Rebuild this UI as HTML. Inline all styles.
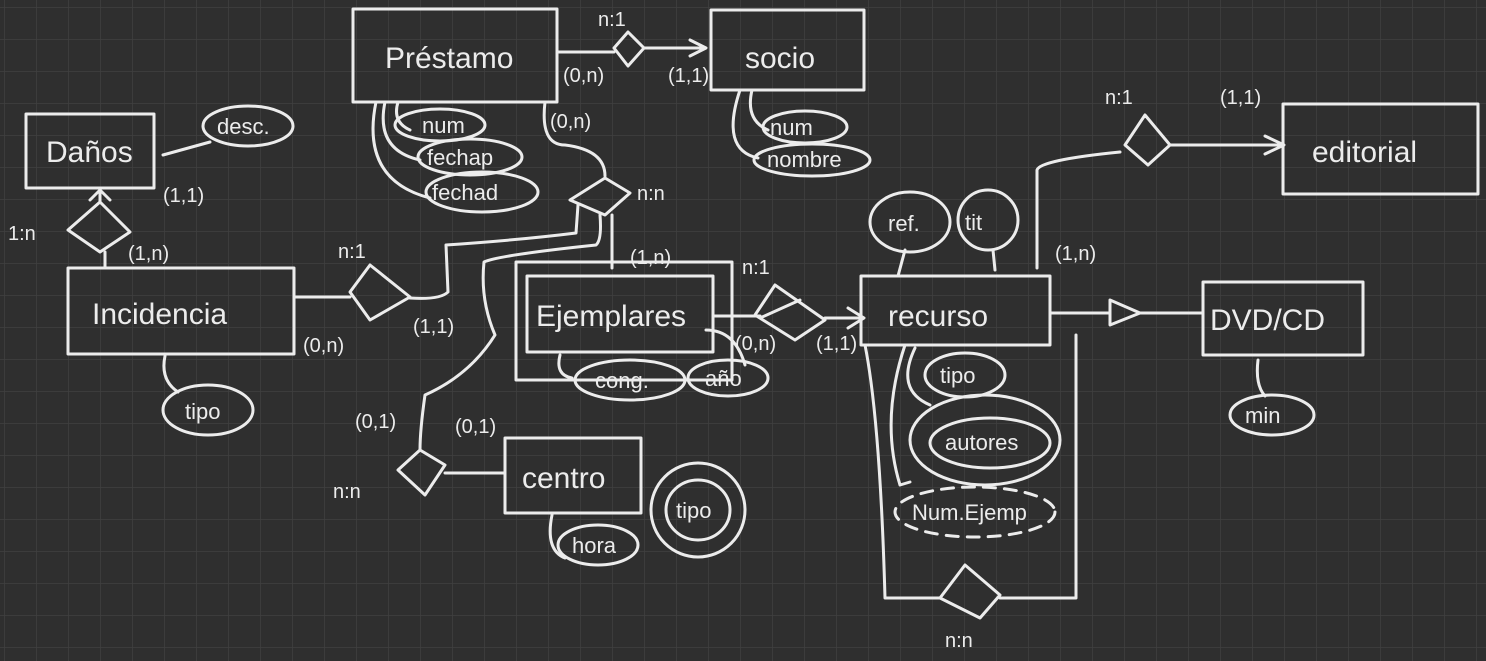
<!DOCTYPE html>
<html><head><meta charset="utf-8"><style>
html,body{margin:0;padding:0;background:#2f2f2f;}
svg{display:block}
text{font-family:"Liberation Sans",sans-serif;fill:#ececec;}
</style></head><body>
<svg width="1486" height="661" viewBox="0 0 1486 661" xmlns="http://www.w3.org/2000/svg">
<defs>
<pattern id="g" width="32" height="32" patternUnits="userSpaceOnUse" x="4" y="7">
<path d="M0 0H32M0 0V32" fill="none" stroke="#404040" stroke-width="1.5"/>
</pattern>
</defs>
<rect width="1486" height="661" fill="#2f2f2f"/>
<rect width="1486" height="661" fill="url(#g)"/>
<g fill="none" stroke="#ececec" stroke-width="3" stroke-linecap="round" stroke-linejoin="round">
<!-- Prestamo / socio -->
<rect x="353" y="9" width="204" height="93"/>
<rect x="711" y="10" width="153" height="80"/>
<path d="M557 52H614M644 48H705M690 40L706 48L690 56"/>
<path d="M614 48L628 32L644 48L628 66Z"/>
<!-- Daños -->
<rect x="26" y="114" width="128" height="74"/>
<ellipse cx="248" cy="126" rx="45" ry="20"/>
<path d="M163 155L210 142"/>
<path d="M68 230L100 202L130 232L100 252Z"/>
<path d="M105 252V268M100 202V192M90 200L100 190L110 200"/>
<!-- Incidencia -->
<rect x="68" y="268" width="226" height="86"/>
<ellipse cx="208" cy="410" rx="45" ry="25"/>
<path d="M165 356Q160 380 178 392"/>
<path d="M294 297H350M350 292L370 265L410 297L370 320Z"/>
<path d="M410 298Q440 300 448 292L446 245Q520 240 576 233L578 205M570 200L605 178L630 193L605 215Z"/>
<!-- Prestamo attributes -->
<ellipse cx="440" cy="125" rx="45" ry="16"/>
<ellipse cx="470" cy="157" rx="52" ry="18"/>
<ellipse cx="482" cy="192" rx="56" ry="20"/>
<path d="M398 102Q392 122 410 130M385 102Q375 150 420 160M376 102Q360 180 430 198"/>
<path d="M545 102Q540 145 565 145Q605 150 605 176"/>
<!-- socio attributes -->
<ellipse cx="805" cy="127" rx="42" ry="16"/>
<ellipse cx="812" cy="160" rx="58" ry="16"/>
<path d="M752 90Q745 120 768 130M740 90Q720 150 758 158"/>
<!-- Ejemplares -->
<rect x="516" y="262" width="216" height="118"/>
<rect x="527" y="276" width="186" height="76"/>
<path d="M612 215V268"/>
<ellipse cx="630" cy="380" rx="55" ry="20"/>
<ellipse cx="728" cy="378" rx="40" ry="18"/>
<path d="M560 355Q555 375 572 378M706 330Q735 330 745 365"/>
<path d="M713 316H760M755 315L775 285L825 320L795 340ZM760 318L800 300M825 318H862M848 308L864 318L848 328"/>
<!-- line to n:n lower -->
<path d="M600 215Q602 240 596 245Q500 255 484 262Q480 300 495 335Q470 375 425 395Q420 430 420 450"/>
<path d="M398 470L420 450L445 465L425 495Z"/>
<path d="M445 473H505"/>
<!-- centro -->
<rect x="505" y="438" width="136" height="75"/>
<ellipse cx="598" cy="545" rx="40" ry="20"/>
<path d="M552 515Q545 550 565 558"/>
<circle cx="698" cy="510" r="47"/>
<ellipse cx="698" cy="510" rx="32" ry="30"/>
<!-- recurso -->
<rect x="861" y="276" width="189" height="69"/>
<ellipse cx="910" cy="222" rx="40" ry="30"/>
<ellipse cx="988" cy="220" rx="30" ry="30"/>
<path d="M905 250L898 276M993 250L995 270"/>
<ellipse cx="965" cy="375" rx="40" ry="22"/>
<ellipse cx="985" cy="440" rx="75" ry="45"/>
<ellipse cx="990" cy="443" rx="60" ry="25"/>
<ellipse cx="975" cy="512" rx="80" ry="25" stroke-dasharray="12 9"/>
<path d="M915 348Q895 390 930 405M905 345Q880 420 900 485L910 482"/>
<path d="M865 345Q880 420 885 598H940M940 598L965 565L1000 595L980 618ZM1000 598H1076V335"/>
<!-- DVD/CD -->
<path d="M1050 313H1110M1110 300L1140 313L1110 325ZM1140 313H1203"/>
<rect x="1203" y="282" width="160" height="73"/>
<ellipse cx="1272" cy="415" rx="42" ry="20"/>
<path d="M1258 360Q1255 385 1265 396"/>
<!-- editorial -->
<path d="M1037 268V170Q1040 160 1120 152M1125 145L1145 115L1170 145L1148 165ZM1170 145H1283M1265 136L1284 145L1265 154"/>
<rect x="1283" y="104" width="195" height="90"/>
</g>
<g font-size="30">
<text x="385" y="68">Préstamo</text>
<text x="745" y="68">socio</text>
<text x="46" y="162">Daños</text>
<text x="92" y="324">Incidencia</text>
<text x="536" y="326">Ejemplares</text>
<text x="522" y="488">centro</text>
<text x="888" y="326">recurso</text>
<text x="1210" y="330">DVD/CD</text>
<text x="1312" y="162">editorial</text>
</g>
<g font-size="22">
<text x="217" y="134">desc.</text>
<text x="185" y="419">tipo</text>
<text x="422" y="133">num</text>
<text x="427" y="165">fechap</text>
<text x="432" y="200">fechad</text>
<text x="770" y="135">num</text>
<text x="767" y="167">nombre</text>
<text x="595" y="388">cong.</text>
<text x="705" y="386">año</text>
<text x="572" y="553">hora</text>
<text x="676" y="518">tipo</text>
<text x="888" y="231">ref.</text>
<text x="965" y="230">tit</text>
<text x="940" y="383">tipo</text>
<text x="945" y="450">autores</text>
<text x="912" y="520">Num.Ejemp</text>
<text x="1245" y="423">min</text>
</g>
<g font-size="20">
<text x="598" y="26">n:1</text>
<text x="563" y="82">(0,n)</text>
<text x="668" y="82">(1,1)</text>
<text x="163" y="202">(1,1)</text>
<text x="8" y="240">1:n</text>
<text x="128" y="260">(1,n)</text>
<text x="338" y="258">n:1</text>
<text x="303" y="352">(0,n)</text>
<text x="413" y="333">(1,1)</text>
<text x="550" y="128">(0,n)</text>
<text x="637" y="200">n:n</text>
<text x="630" y="264">(1,n)</text>
<text x="742" y="274">n:1</text>
<text x="735" y="350">(0,n)</text>
<text x="816" y="350">(1,1)</text>
<text x="355" y="428">(0,1)</text>
<text x="455" y="433">(0,1)</text>
<text x="333" y="498">n:n</text>
<text x="1055" y="260">(1,n)</text>
<text x="945" y="647">n:n</text>
<text x="1105" y="104">n:1</text>
<text x="1220" y="104">(1,1)</text>
</g>
</svg>
</body></html>
